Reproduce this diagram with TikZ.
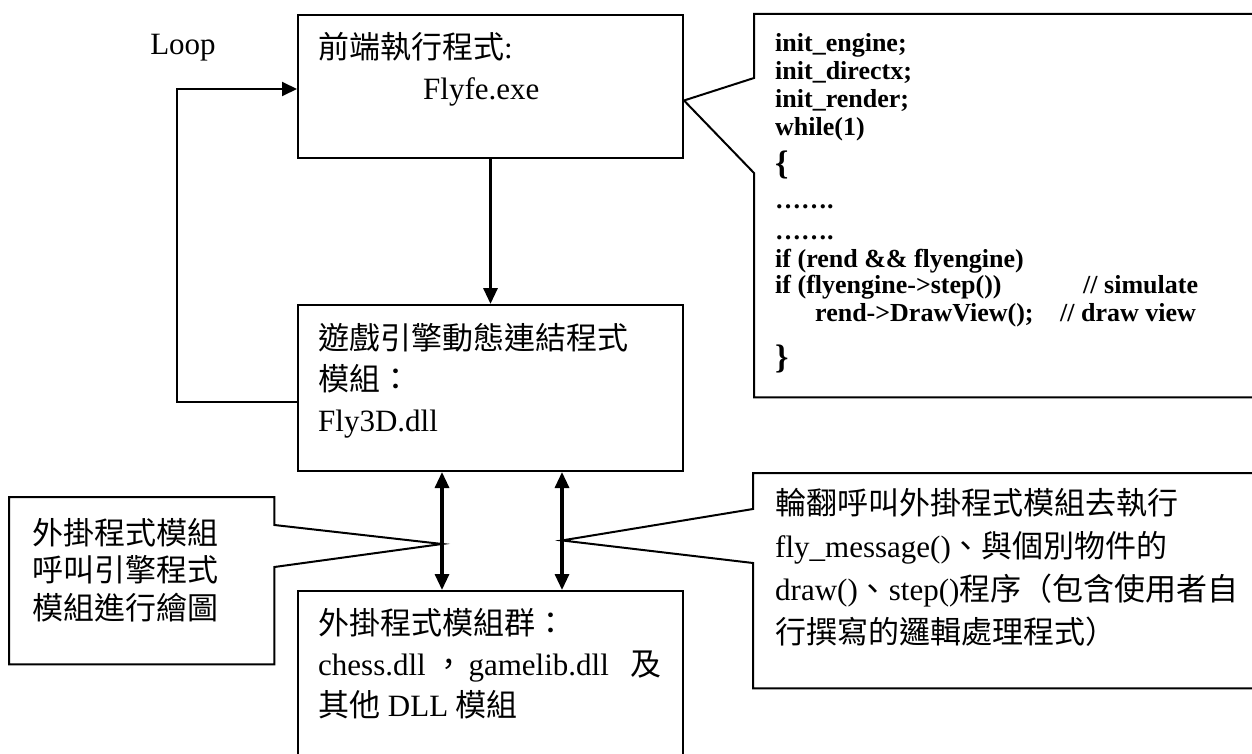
\documentclass[tikz,border=0pt]{standalone}
\usepackage{fontspec}
\setmainfont{Liberation Serif}
\newfontfamily\cjk{Noto Sans CJK TC}
\usetikzlibrary{arrows.meta,calc,positioning}
\newcommand{\bracesize}{\fontsize{34pt}{28pt}\selectfont}

\begin{document}
\begin{tikzpicture}[x=1pt,y=-1pt]
\tikzstyle{box}=[rectangle, draw=black, line width=2pt, anchor=north west, inner sep=0pt]
\tikzstyle{frame}=[rectangle, anchor=north west, inner sep=0pt]
\tikzstyle{txt}=[anchor=north west, align=left, inner sep=0pt, font=\fontsize{31pt}{41pt}\selectfont]
\tikzstyle{codefont}=[anchor=north west, align=left, inner sep=0pt, font=\bfseries\fontsize{26pt}{28pt}\selectfont]
\tikzstyle{connect}=[-{Triangle[length=16pt,width=14pt]}, line width=3.2pt]
\tikzstyle{loopline}=[-{Triangle[length=15pt,width=14pt]}, line width=2pt]
\tikzstyle{both}=[{Triangle[length=16pt,width=14pt]}-{Triangle[length=16pt,width=14pt]}, line width=3.2pt]
\tikzstyle{callout}=[line width=2pt, line join=miter]

\path[use as bounding box, clip] (0,0) rectangle (1252,754);

% the three program boxes
\node[box, minimum width=385pt, minimum height=143pt] at (297,14) (front) {};
\node[box, minimum width=385pt, minimum height=166pt] at (297,304) (engine) {};
\node[box, minimum width=385pt, minimum height=220pt] at (297,590) (plugin) {};

% callout frames
\node[frame, minimum width=520pt, minimum height=383pt] at (754,14) (code) {};
\node[frame, minimum width=265pt, minimum height=167pt] at (9,497) (calls) {};
\node[frame, minimum width=520pt, minimum height=215pt] at (753,473) (polls) {};

\node[txt, below right=18pt and 21pt of front.north west] (fronttxt)
  {{\cjk 前端執行程式}:\\\hspace*{105pt}Flyfe.exe};
\node[txt, below right=19pt and 21pt of engine.north west] (enginetxt)
  {{\cjk 遊戲引擎動態連結程式}\\{\cjk 模組：}\\Fly3D.dll};
\node[txt, below right=18pt and 21pt of plugin.north west] (plugintxt)
  {{\cjk 外掛程式模組群：}\\chess.dll {\cjk ，}\hspace{4pt}gamelib.dll\hspace{14pt} {\cjk 及}\\{\cjk 其他} DLL {\cjk 模組}};
\node[anchor=base, inner sep=0pt, font=\fontsize{31pt}{31pt}\selectfont] at (183,55) (looplbl) {Loop};

% connectors
\path (front) edge [connect] (engine);
\draw[loopline] ([yshift=-14pt]engine.west) -- ++(-120,0) |- ([yshift=-2.5pt]front.west);
\draw[both] ([xshift=145pt]engine.south west) -- coordinate[pos=.61] (tipA) ([xshift=145pt]plugin.north west);
\draw[both] ([xshift=265pt]engine.south west) -- coordinate[pos=.58] (tipB) ([xshift=265pt]plugin.north west);

% callouts
\draw[callout] (code.north east) -- (code.north west) -- ($(code.north west)+(0,64)$)
  -- ([yshift=-14pt]front.east) -- ($(code.north west)+(0,159)$) -- (code.south west) -- (code.south east);
\node[codefont, below right=19pt and 21pt of code.north west] (codetxt)
  {init\_engine;\\init\_directx;\\init\_render;\\while(1)\\[9pt]{\bracesize\{}\\[6pt]…….\\[3pt]…….\\if (rend \&\& flyengine)\\[-2pt]\makebox[308pt][l]{if (flyengine->step())}// simulate\\\hspace*{40pt}\makebox[245pt][l]{rend->DrawView();}// draw view\\[17pt]{\bracesize\}}};

\draw[callout] (calls.north west) -- (calls.north east) -- ($(calls.north east)+(0,28)$)
  -- (tipA) -- ($(calls.north east)+(0,70)$) -- (calls.south east) -- (calls.south west) -- cycle;
\node[txt, font=\fontsize{31pt}{37.5pt}\selectfont, below right=21pt and 23pt of calls.north west] (callstxt)
  {{\cjk 外掛程式模組}\\{\cjk 呼叫引擎程式}\\{\cjk 模組進行繪圖}};

\draw[callout] (polls.north east) -- (polls.north west) -- ($(polls.north west)+(0,36)$)
  -- (tipB) -- ($(polls.north west)+(0,90)$) -- (polls.south west) -- (polls.south east);
\node[txt, font=\fontsize{31pt}{43pt}\selectfont, below right=15pt and 22pt of polls.north west] (pollstxt)
  {{\cjk 輪翻呼叫外掛程式模組去執行}\\fly\_message(){\cjk 、與個別物件的}\\draw(){\cjk 、}step(){\cjk 程序（包含使用者自}\\{\cjk 行撰寫的邏輯處理程式）}};
\end{tikzpicture}
\end{document}
